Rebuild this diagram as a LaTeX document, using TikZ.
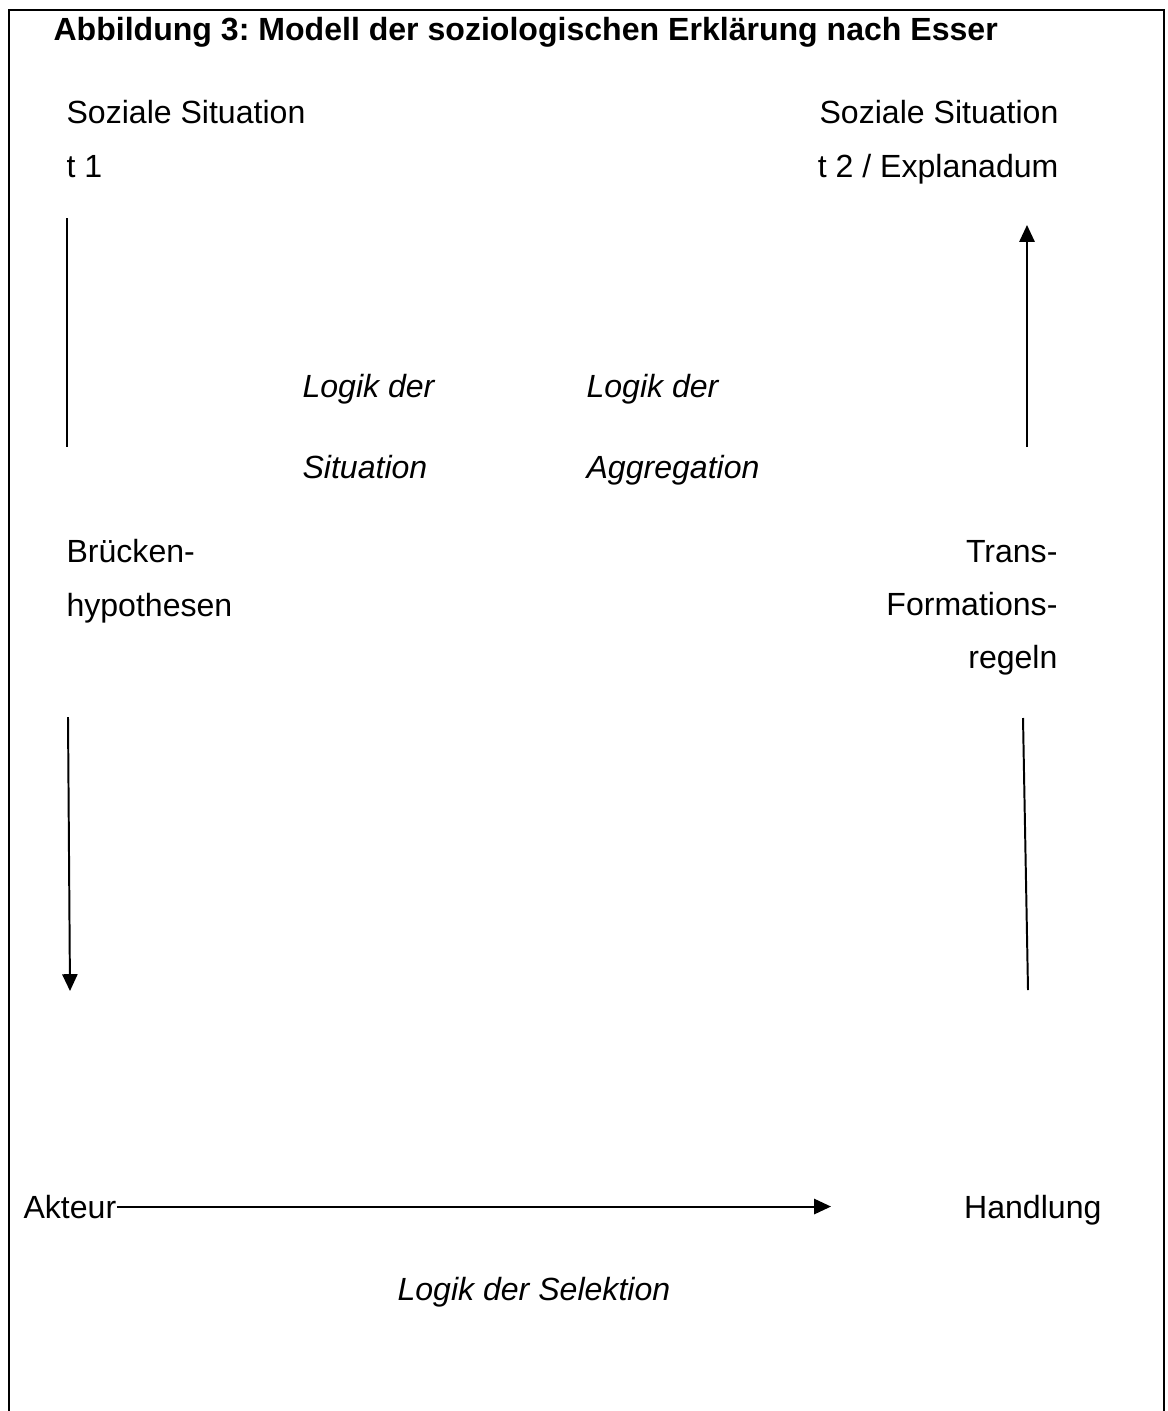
\documentclass[tikz,border=0pt]{standalone}
\usepackage{fontspec}
\setmainfont{Liberation Sans}
\usetikzlibrary{arrows.meta}
\frenchspacing

\begin{document}
\begin{tikzpicture}[x=0.0125cm,y=-0.0125cm,
    txt/.style={inner sep=0pt,font=\fontsize{11.4pt}{13pt}\selectfont},
    itxt/.style={txt,font=\fontsize{11.4pt}{13pt}\selectfont\itshape},
    pfeil/.style={line width=0.7pt,-{Triangle[length=0.21cm,width=0.19cm]}},
    strich/.style={line width=0.7pt}]
            \useasboundingbox (0,0) rectangle (1168,1411);
            % Rahmen, unten offen
            \draw[line width=1pt] (9,1411) -- (9,10) -- (1164,10) -- (1164,1411);
            \node[txt,anchor=base west,font=\fontsize{11.4pt}{13pt}\selectfont\bfseries] (titel) at (53,41)
                {Abbildung 3: Modell der soziologischen Erklärung nach Esser};
            % Makroebene
            \node[txt,anchor=base west] (sit1) at (66,124) {Soziale Situation};
            \node[txt,anchor=base west] (t1) at (66,178) {t 1};
            \node[txt,anchor=base east] (sit2) at (1059,124) {Soziale Situation};
            \node[txt,anchor=base east] (t2) at (1059,178) {t 2 / Explanadum};
            % Logiken
            \node[itxt,anchor=base west] (logsit1) at (302,397) {Logik der};
            \node[itxt,anchor=base west] (logsit2) at (302,478) {Situation};
            \node[itxt,anchor=base west] (logagg1) at (586,397) {Logik der};
            \node[itxt,anchor=base west] (logagg2) at (586,478) {Aggregation};
            % Brueckenhypothesen / Transformationsregeln
            \node[txt,anchor=base west] (bh1) at (66,562) {Brücken-};
            \node[txt,anchor=base west] (bh2) at (66,616) {hypothesen};
            \node[txt,anchor=base east] (tr1) at (1058,562) {Trans-};
            \node[txt,anchor=base east] (tr2) at (1058,615) {Formations-};
            \node[txt,anchor=base east] (tr3) at (1058,668) {regeln};
            % Mikroebene
            \node[txt,anchor=base west] (akteur) at (23,1218) {Akteur};
            \node[txt,anchor=base east] (handlung) at (1102,1218) {Handlung};
            \node[itxt,anchor=base west] (logsel) at (397,1300) {Logik der Selektion};
            % Endpunkte der Linien
            \coordinate (la) at (67,218);
            \coordinate (lb) at (67,447);
            \coordinate (lc) at (68,717);
            \coordinate (ld) at (70,991);
            \coordinate (ra) at (1027,225);
            \coordinate (rb) at (1027,447);
            \coordinate (rc) at (1023,718);
            \coordinate (rd) at (1028,990);
            \coordinate (sb) at (831,1208);
            \draw[strich] (la) -- (lb);
            \draw[pfeil] (lc) -- (ld);
            \draw[pfeil] (rb) -- (ra);
            \draw[strich] (rd) -- (rc);
            \draw[pfeil] (akteur.east) -- (akteur.east -| sb);
\end{tikzpicture}
\end{document}
